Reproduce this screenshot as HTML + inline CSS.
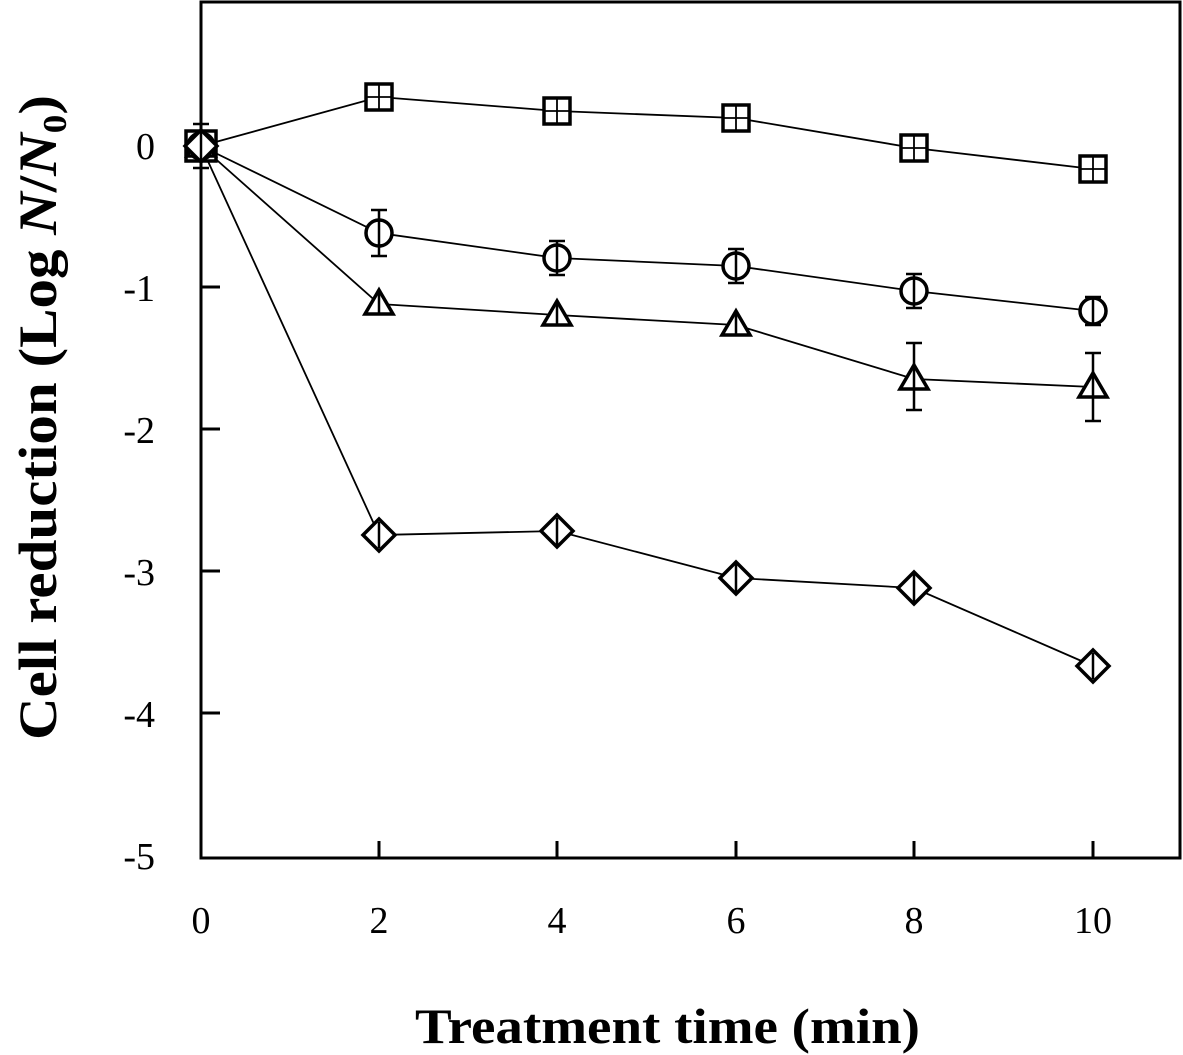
<!DOCTYPE html>
<html><head><meta charset="utf-8"><style>body{margin:0;background:#fff}svg{display:block}</style></head>
<body>
<svg width="1183" height="1055" viewBox="0 0 1183 1055" xmlns="http://www.w3.org/2000/svg" font-family="Liberation Serif, serif">
<rect x="201" y="2" width="979" height="856" fill="none" stroke="#000" stroke-width="3"/>
<g stroke="#000" stroke-width="3">
<line x1="201" y1="287" x2="220" y2="287"/><line x1="201" y1="429" x2="220" y2="429"/>
<line x1="201" y1="571" x2="220" y2="571"/><line x1="201" y1="713" x2="220" y2="713"/>
<line x1="379" y1="858" x2="379" y2="841"/><line x1="557" y1="858" x2="557" y2="841"/>
<line x1="736" y1="858" x2="736" y2="841"/><line x1="914" y1="858" x2="914" y2="841"/>
<line x1="1093" y1="858" x2="1093" y2="841"/>
</g>
<g font-size="38" text-anchor="end">
<text x="155" y="159">0</text><text x="155" y="301">-1</text><text x="155" y="443">-2</text>
<text x="155" y="585">-3</text><text x="155" y="727">-4</text><text x="155" y="869">-5</text>
</g>
<g font-size="38" text-anchor="middle">
<text x="201" y="933">0</text><text x="379" y="933">2</text><text x="557" y="933">4</text>
<text x="736" y="933">6</text><text x="914" y="933">8</text><text x="1093" y="933">10</text>
</g>
<text x="415" y="1043" font-size="50" font-weight="bold" textLength="505" lengthAdjust="spacingAndGlyphs">Treatment time (min)</text>
<text transform="translate(56,740) rotate(-90)" font-size="54" font-weight="bold" textLength="645" lengthAdjust="spacingAndGlyphs">Cell reduction (Log <tspan font-style="italic">N</tspan>/<tspan font-style="italic">N</tspan><tspan font-size="34" dy="10">0</tspan><tspan dy="-10">)</tspan></text>
<g fill="none" stroke="#000" stroke-width="1.8">
<polyline points="201,146 379,97 557,111 736,118 914,148 1093,169"/>
<polyline points="201,146 379,233 557,258 736,266 914,291 1093,311"/>
<polyline points="201,146 379,304 557,315 736,325 914,379 1093,387"/>
<polyline points="201,146 379,535 557,531 736,578 914,588 1093,666"/>
</g>
<g fill="#fff" stroke="#000" stroke-width="3.5">
<g transform="translate(379,97)"><rect x="-13" y="-13" width="26" height="26"/><path d="M0 -13V13M-13 0H13" stroke-width="1.8"/></g>
<g transform="translate(557,111)"><rect x="-13" y="-13" width="26" height="26"/><path d="M0 -13V13M-13 0H13" stroke-width="1.8"/></g>
<g transform="translate(736,118)"><rect x="-13" y="-13" width="26" height="26"/><path d="M0 -13V13M-13 0H13" stroke-width="1.8"/></g>
<g transform="translate(914,148)"><rect x="-13" y="-13" width="26" height="26"/><path d="M0 -13V13M-13 0H13" stroke-width="1.8"/></g>
<g transform="translate(1093,169)"><rect x="-13" y="-13" width="26" height="26"/><path d="M0 -13V13M-13 0H13" stroke-width="1.8"/></g>
<circle cx="379" cy="233" r="13"/><circle cx="557" cy="258" r="13"/><circle cx="736" cy="266" r="13"/><circle cx="914" cy="291" r="13"/><circle cx="1093" cy="311" r="13"/>
<path d="M379 290L393 314H365Z"/><path d="M557 301L571 325H543Z"/><path d="M736 311L750 335H722Z"/><path d="M914 365L928 389H900Z"/><path d="M1093 373L1107 397H1079Z"/>
<path d="M379 519L395 535L379 551L363 535Z"/><path d="M557 515L573 531L557 547L541 531Z"/><path d="M736 562L752 578L736 594L720 578Z"/><path d="M914 572L930 588L914 604L898 588Z"/><path d="M1093 650L1109 666L1093 682L1077 666Z"/>
<rect x="186" y="131" width="30" height="30"/><circle cx="201" cy="146" r="13"/><path d="M201 132L215 156H187Z"/><path d="M201 130L217 146L201 162L185 146Z"/>
</g>
<g stroke="#000" stroke-width="2.5" fill="none">
<path d="M201 124V168M193 124H209M193 168H209"/>
<path d="M379 210V256M371 210H387M371 256H387"/>
<path d="M557 241V275M549 241H565M549 275H565"/>
<path d="M736 249V283M728 249H744M728 283H744"/>
<path d="M914 274V308M906 274H922M906 308H922"/>
<path d="M1093 297V325M1085 297H1101M1085 325H1101"/>
<path d="M379 291V314M557 302V325M736 312V335"/>
<path d="M914 343V410M906 343H922M906 410H922"/>
<path d="M1093 353V421M1085 353H1101M1085 421H1101"/>
<path d="M379 522V548M557 518V545M736 564V593M914 574V603M1093 653V679"/>
</g>
</svg>
</body></html>
